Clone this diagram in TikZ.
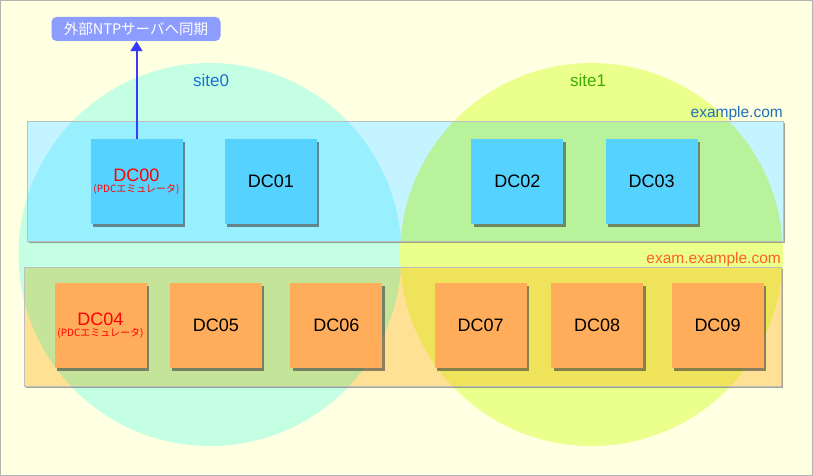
\documentclass[tikz,border=0pt]{standalone}
\usepackage{fontspec}
\setmainfont{Liberation Sans}
\newfontfamily\jpfont{Noto Sans CJK JP}
\usetikzlibrary{arrows.meta,positioning,shadows}
\definecolor{bgyellow}{HTML}{FFFFE2}
\definecolor{sitemint}{HTML}{C4FFE4}
\definecolor{sitelime}{HTML}{EBFF8C}
\definecolor{domcyan}{HTML}{C4F4FF}
\definecolor{domcyanmint}{HTML}{98F0FF}
\definecolor{domcyanlime}{HTML}{B8F29A}
\definecolor{domorange}{HTML}{FFE196}
\definecolor{domorangemint}{HTML}{C4E49A}
\definecolor{domorangelime}{HTML}{EEE35A}
\definecolor{dcblue}{HTML}{56D2FF}
\definecolor{dcorange}{HTML}{FFAD5A}
\definecolor{ntpblue}{HTML}{8C9CFF}
\definecolor{arrowblue}{HTML}{3A3AFF}
\definecolor{site0text}{HTML}{1A6FD8}
\definecolor{site1text}{HTML}{3BAE00}
\definecolor{dom1text}{HTML}{1F70B8}
\definecolor{dom2text}{HTML}{FF6020}
\newcommand{\pdcsub}[1]{{\jpfont\fontsize{10pt}{11pt}\selectfont #1}}

\begin{document}
\begin{tikzpicture}[
  x=1pt,y=-1pt,
  node distance=24pt,
  dc/.style={minimum width=92pt,minimum height=85pt,inner sep=0pt,align=center,font=\fontsize{18pt}{19pt}\selectfont,drop shadow={shadow xshift=2.5pt,shadow yshift=-2.5pt,opacity=0.6,fill=black!75}},
  dcb/.style={dc,fill=dcblue},
  dco/.style={dc,fill=dcorange},
  pdc/.style={text=red},
  domshadow/.style={drop shadow={shadow xshift=2pt,shadow yshift=-2pt,opacity=0.5,fill=black!70}},
  sitelbl/.style={font=\fontsize{17pt}{18pt}\selectfont,inner sep=0pt},
  domlbl/.style={font=\fontsize{15.5pt}{16pt}\selectfont,inner sep=0pt,anchor=base east},
  ntp/.style={fill=ntpblue,rounded corners=5pt,minimum width=169pt,minimum height=24pt,inner sep=0pt,text=white,font=\jpfont\fontsize{14.5pt}{15pt}\selectfont},
  arr/.style={-{Triangle[length=10pt,width=12pt]},line width=2pt,arrowblue}
]
  \useasboundingbox (0,0) rectangle (813,476);
  \fill[bgyellow] (0,0) rectangle (813,476);
  \draw[black!30] (0.5,0.5) rectangle (812.5,475.5);

  % sites
  \coordinate (s0) at (210,254.5);
  \coordinate (s1) at (591.5,254.5);
  \fill[sitemint] (s0) circle[radius=191.5pt];
  \fill[sitelime] (s1) circle[radius=191.5pt];

  % domains
  \fill[domcyan,domshadow] (27,121) rectangle (783,241);
  \begin{scope}
    \clip (s0) circle[radius=191.5pt];
    \fill[domcyanmint] (27,121) rectangle (783,241);
  \end{scope}
  \begin{scope}
    \clip (s1) circle[radius=191.5pt];
    \fill[domcyanlime] (27,121) rectangle (783,241);
  \end{scope}
  \draw[black!25] (27,121) rectangle (783,241);

  \fill[domorange,domshadow] (24,267) rectangle (781,386);
  \begin{scope}
    \clip (s0) circle[radius=191.5pt];
    \fill[domorangemint] (24,267) rectangle (781,386);
  \end{scope}
  \begin{scope}
    \clip (s1) circle[radius=191.5pt];
    \fill[domorangelime] (24,267) rectangle (781,386);
  \end{scope}
  \draw[black!25] (24,267) rectangle (781,386);

  \node[sitelbl,text=site0text] (site0lbl) at (211,80) {site0};
  \node[sitelbl,text=site1text] (site1lbl) at (588,80) {site1};
  \node[domlbl,text=dom1text] (dom1lbl) at (783,117.5) {example.com};
  \node[domlbl,text=dom2text] (dom2lbl) at (781,263.5) {exam.example.com};

  % DCs
  \node[dcb,pdc] (dc00) at (136.5,181.5) {DC00\\[-8pt]\pdcsub{(PDCエミュレータ)}};
  \node[dcb,right=42pt of dc00] (dc01) {DC01};
  \node[dcb,right=154pt of dc01] (dc02) {DC02};
  \node[dcb,right=42pt of dc02] (dc03) {DC03};

  \node[dco,pdc] (dc04) at (100.5,325.5) {DC04\\[-8pt]\pdcsub{(PDCエミュレータ)}};
  \node[dco,right=23pt of dc04] (dc05) {DC05};
  \node[dco,right=28pt of dc05] (dc06) {DC06};
  \node[dco,right=52pt of dc06] (dc07) {DC07};
  \node[dco,right=24pt of dc07] (dc08) {DC08};
  \node[dco,right=28pt of dc08] (dc09) {DC09};

  % ntp
  \node[ntp] (ntp) at (136,29) {外部NTPサーバへ同期};
  \draw[arr] (dc00.north) -- (dc00.north |- ntp.south);
\end{tikzpicture}
\end{document}
